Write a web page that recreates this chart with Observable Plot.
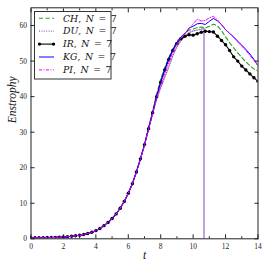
<!DOCTYPE html>
<html><head><meta charset="utf-8">
<script src="https://cdn.jsdelivr.net/npm/d3@7"></script>
<script src="https://cdn.jsdelivr.net/npm/@observablehq/plot@0.6"></script>
<style>
body{margin:0;background:#fff;}
#wrap{position:relative;width:269px;height:269px;}
#legend{position:absolute;left:0;top:0;}
</style></head><body><div id="wrap"></div>
<script>
const t = [0,0.25,0.5,0.75,1,1.25,1.5,1.75,2,2.25,2.5,2.75,3,3.25,3.5,3.75,4,4.25,4.5,4.75,5,5.25,5.5,5.75,6,6.25,6.5,6.75,7,7.25,7.5,7.75,8,8.25,8.5,8.75,9,9.25,9.5,9.75,10,10.25,10.5,10.75,11,11.25,11.5,11.75,12,12.25,12.5,12.75,13,13.25,13.5,13.75,14];
const ir = [0.3,0.3,0.3,0.3,0.35,0.35,0.4,0.45,0.5,0.6,0.7,0.85,1.0,1.2,1.5,1.85,2.3,2.9,3.7,4.6,5.7,7.0,8.6,10.5,12.8,15.5,18.8,22.5,26.5,31,35.5,40,44,47.5,50.5,53,55,56.3,57,57.4,57.3,57.7,58.1,58.4,58.3,58.2,57,55.8,54.6,53,51.2,50,48.6,47.5,46.4,45.3,44.3];
const kg = [0.3,0.3,0.3,0.3,0.35,0.35,0.4,0.45,0.5,0.6,0.7,0.85,1.0,1.2,1.5,1.85,2.3,2.9,3.7,4.6,5.7,7.0,8.6,10.5,12.8,15.5,18.8,22.5,26.5,31,35.5,40,44.3,47.8,50.8,53.3,55.3,56.8,57.8,59.3,59.8,60.5,60.6,60.3,61.2,62,61.3,60.3,58.8,57.8,56.8,55.6,54.5,53.3,52,50.5,48.6];
const ch = [0.3,0.3,0.3,0.3,0.35,0.35,0.4,0.45,0.5,0.6,0.7,0.85,1.0,1.2,1.5,1.85,2.3,2.9,3.7,4.6,5.7,7.0,8.6,10.5,12.8,15.5,18.8,22.6,26.7,31.3,36,40.8,45,48.2,51,53.5,55.5,56.8,57.8,58.7,59,59.4,59.6,59.3,59.8,60.4,59.9,58.6,56.8,55.2,53.7,52.3,51,49.8,48.7,47.8,47.2];
const pi = [0.3,0.3,0.3,0.3,0.35,0.35,0.4,0.45,0.5,0.6,0.7,0.85,1.0,1.2,1.5,1.85,2.3,2.9,3.7,4.6,5.7,7.0,8.6,10.5,12.8,15.5,18.8,22.4,26.3,30.8,35.2,39.5,43,46.5,49.5,52.5,54.8,56.5,57.8,59,60.5,61.8,61.3,61.4,62.2,62.6,61.6,60.2,58.9,57.8,56.6,55.4,54.2,53,51.6,50.2,48.8];
const duT = [0,0.25,0.5,0.75,1,1.25,1.5,1.75,2,2.25,2.5,2.75,3,3.25,3.5,3.75,4,4.25,4.5,4.75,5,5.25,5.5,5.75,6,6.25,6.5,6.75,7,7.25,7.5,7.75,8,8.25,8.5,8.75,9,9.25,9.5,9.75,10,10.25,10.5,10.67,10.67,10.67,10.67,10.67,10.67];
const du = [0.3,0.3,0.3,0.3,0.35,0.35,0.4,0.45,0.5,0.6,0.7,0.85,1.0,1.2,1.5,1.85,2.3,2.9,3.7,4.6,5.7,7.0,8.6,10.5,12.8,15.5,18.8,22.4,26.3,30.7,35,39.3,42.5,45.5,48.3,51.5,54,55.8,57,58,58.5,58.7,59,59.2,-1000,59.2,-997,59.2,-994];

const series = [
  {name:"CH", tt:t, v:ch, color:"#22a022", dash:"4,2.6", width:1.1, dot:false},
  {name:"DU", tt:duT, v:du, color:"#9467bd", dash:"1,1.4", width:1.2, dot:false},
  {name:"IR", tt:t, v:ir, color:"#000000", dash:null, width:1.1, dot:true},
  {name:"KG", tt:t, v:kg, color:"#0000ff", dash:null, width:1, dot:false},
  {name:"PI", tt:t, v:pi, color:"#ff00ff", dash:"3,1.5,1,1.5", width:1, dot:false}
];
const N = 7;
const xMajor = [0,2,4,6,8,10,12,14];
const xMinor = [1,3,5,7,9,11,13];
const yMajor = [0,10,20,30,40,50,60];

const font = "'Liberation Serif', 'DejaVu Serif', serif";
const marks = [];
for (const s of series) {
  const rows = s.tt.map((x,i)=>({x, y:s.v[i]}));
  marks.push(Plot.line(rows, {x:"x", y:"y", stroke:s.color, strokeWidth:s.width, strokeDasharray:s.dash, clip:true}));
  if (s.dot) marks.push(Plot.dot(rows, {x:"x", y:"y", r:1.7, fill:s.color, stroke:null, clip:true}));
}
marks.push(
  Plot.frame({stroke:"#222", strokeWidth:1}),
  Plot.axisX({anchor:"bottom", ticks:xMajor, tickSize:0, tickPadding:5, label:null, fontSize:7.5}),
  Plot.axisY({anchor:"left", ticks:yMajor, tickSize:0, tickPadding:4, label:null, fontSize:7.5}),
  Plot.axisX({anchor:"bottom", ticks:xMajor, tickSize:-4, tickFormat:()=>"", label:null}),
  Plot.axisX({anchor:"bottom", ticks:xMinor, tickSize:-2, tickFormat:()=>"", label:null}),
  Plot.axisX({anchor:"top", ticks:xMajor, tickSize:-4, tickFormat:()=>"", label:null}),
  Plot.axisX({anchor:"top", ticks:xMinor, tickSize:-2, tickFormat:()=>"", label:null}),
  Plot.axisY({anchor:"left", ticks:yMajor, tickSize:-4, tickFormat:()=>"", label:null}),
  Plot.axisY({anchor:"right", ticks:yMajor, tickSize:-4, tickFormat:()=>"", label:null}),
  Plot.text(["Enstrophy"], {frameAnchor:"left", dx:-19, rotate:-90, fontStyle:"italic", fontSize:11.5, fill:"#111"}),
  Plot.text(["t"], {frameAnchor:"bottom", dy:20, fontStyle:"italic", fontSize:11.5, fill:"#111"})
);

const chart = Plot.plot({
  width:269, height:269,
  marginLeft:30.5, marginRight:11.5, marginTop:7.3, marginBottom:30.7,
  x:{domain:[0,14]}, y:{domain:[0,65]},
  style:{fontFamily:font, color:"#222", background:"#fff"},
  marks
});
const wrap = document.getElementById("wrap");
wrap.appendChild(chart);

// legend overlay
const lg = d3.select(wrap).append("svg").attr("id","legend").attr("width",269).attr("height",269)
  .style("font-family", "'DejaVu Serif', serif");
lg.append("rect").attr("x",34.5).attr("y",11.5).attr("width",76.5).attr("height",67.5)
  .attr("fill","#fff").attr("stroke","#333").attr("stroke-width",1);
series.forEach((s,i)=>{
  const cy = 18.3 + i*12.9;
  const g = lg.append("g");
  g.append("line").attr("x1",39).attr("x2",54).attr("y1",cy).attr("y2",cy)
    .attr("stroke",s.color).attr("stroke-width",s.width).attr("stroke-dasharray",s.dash);
  if (s.dot) {
    g.append("circle").attr("cx",39.5).attr("cy",cy).attr("r",1.7).attr("fill",s.color);
    g.append("circle").attr("cx",53.5).attr("cy",cy).attr("r",1.7).attr("fill",s.color);
  }
  const tx = g.append("text").attr("x",63).attr("y",cy).attr("dy","0.35em").attr("font-size",9.3)
    .attr("word-spacing","1.6px").attr("fill","#111");
  tx.append("tspan").attr("font-style","italic").text(s.name);
  tx.append("tspan").text(", ");
  tx.append("tspan").attr("font-style","italic").text("N");
  tx.append("tspan").text(" = " + N);
});
</script></body></html>
